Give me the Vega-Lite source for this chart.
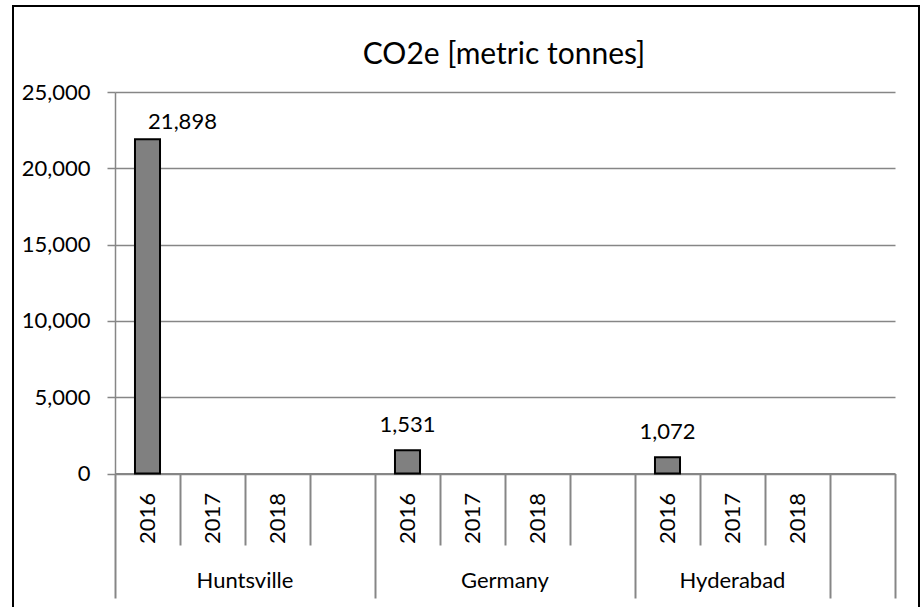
{
  "$schema": "https://vega.github.io/schema/vega-lite/v6.json",
  "autosize": {"type": "none"},
  "padding": {"left": 13, "top": 6, "right": 1, "bottom": 0},
  "width": 906,
  "height": 601,
  "background": "white",
  "config": {
    "view": {"stroke": "black", "strokeWidth": 2, "strokeDash": [1507, 906, 611]},
    "font": "Lato",
    "axis": {"labelFont": "Lato", "labelColor": "black", "labelFontSize": 22}
  },
  "title": {
    "text": "CO2e [metric tonnes]",
    "font": "Lato",
    "fontSize": 30,
    "fontWeight": "normal",
    "color": "black",
    "anchor": "middle",
    "frame": "group",
    "dx": 38,
    "baseline": "bottom",
    "offset": -94
  },
  "data": {
    "values": [
      {"slot": "Huntsville|2016", "site": "Huntsville", "year": "2016", "value": 21898},
      {"slot": "Germany|2016", "site": "Germany", "year": "2016", "value": 1531},
      {"slot": "Hyderabad|2016", "site": "Hyderabad", "year": "2016", "value": 1072}
    ]
  },
  "resolve": {"axis": {"x": "independent"}},
  "layer": [
    {
      "mark": {"type": "bar", "fill": "#808080", "stroke": "black", "strokeWidth": 2, "width": {"band": 0.385}},
      "encoding": {
        "x": {
          "field": "slot", "type": "nominal",
          "scale": {
            "domain": ["Huntsville|2016", "Huntsville|2017", "Huntsville|2018", "Huntsville|", "Germany|2016", "Germany|2017", "Germany|2018", "Germany|", "Hyderabad|2016", "Hyderabad|2017", "Hyderabad|2018", "|"],
            "range": [102, 882], "paddingInner": 0, "paddingOuter": 0
          },
          "axis": {
            "orient": "bottom", "offset": -133.5, "title": null, "labels": false, "grid": false,
            "domain": true, "domainColor": "#868686", "domainWidth": 2,
            "ticks": true, "tickColor": "#868686", "tickWidth": 2, "tickBand": "extent",
            "tickSize": {"condition": {"test": "datum.extra || indexof(['Huntsville|','Germany|','Hyderabad|2018','|'], datum.value) >= 0", "value": 124.5}, "value": 71.5}
          }
        },
        "y": {
          "field": "value", "type": "quantitative",
          "scale": {"domain": [0, 25000], "range": [467.5, 86], "nice": false},
          "axis": {
            "title": null, "offset": -102, "values": [0, 5000, 10000, 15000, 20000, 25000], "format": ",.0f",
            "grid": true, "gridColor": "#868686", "gridWidth": 1.5,
            "domain": true, "domainColor": "#868686", "domainWidth": 1.5,
            "ticks": true, "tickSize": 8, "tickColor": "#868686", "tickWidth": 1.5,
            "labelPadding": 17
          }
        }
      }
    },
    {
      "mark": {"type": "text", "font": "Lato", "fontSize": 22, "color": "black", "align": "center", "baseline": "alphabetic",
               "dx": {"expr": "datum.value > 10000 ? 35 : 0"}, "dy": {"expr": "datum.value > 10000 ? -10 : -18"}},
      "encoding": {
        "x": {
          "field": "slot", "type": "nominal",
          "axis": {
            "orient": "bottom", "offset": -133.5, "title": null, "domain": false, "ticks": false, "tickSize": 0, "grid": false,
            "labelAngle": -90, "labelPadding": 19, "labelOverlap": false, "labelFontSize": 22,
            "labelExpr": "split(datum.value, '|')[1]"
          }
        },
        "y": {"field": "value", "type": "quantitative"},
        "text": {"field": "value", "type": "quantitative", "format": ","}
      }
    },
    {
      "mark": {"type": "point", "opacity": 0},
      "encoding": {
        "x": {
          "field": "slot", "type": "nominal",
          "axis": {
            "orient": "bottom", "offset": -133.5, "title": null, "domain": false, "ticks": false, "tickSize": 0, "grid": false,
            "labelAngle": 0, "labelAlign": "center", "labelBaseline": "alphabetic", "labelPadding": 114, "labelOverlap": false, "labelFontSize": 22,
            "labelOffset": {"condition": {"test": "datum.value == 'Hyderabad|2017'", "value": 0}, "value": 32.5},
            "labelExpr": "datum.value == 'Huntsville|2017' ? 'Huntsville' : datum.value == 'Germany|2017' ? 'Germany' : datum.value == 'Hyderabad|2017' ? 'Hyderabad' : ''"
          }
        },
        "y": {"field": "value", "type": "quantitative"}
      }
    }
  ]
}
